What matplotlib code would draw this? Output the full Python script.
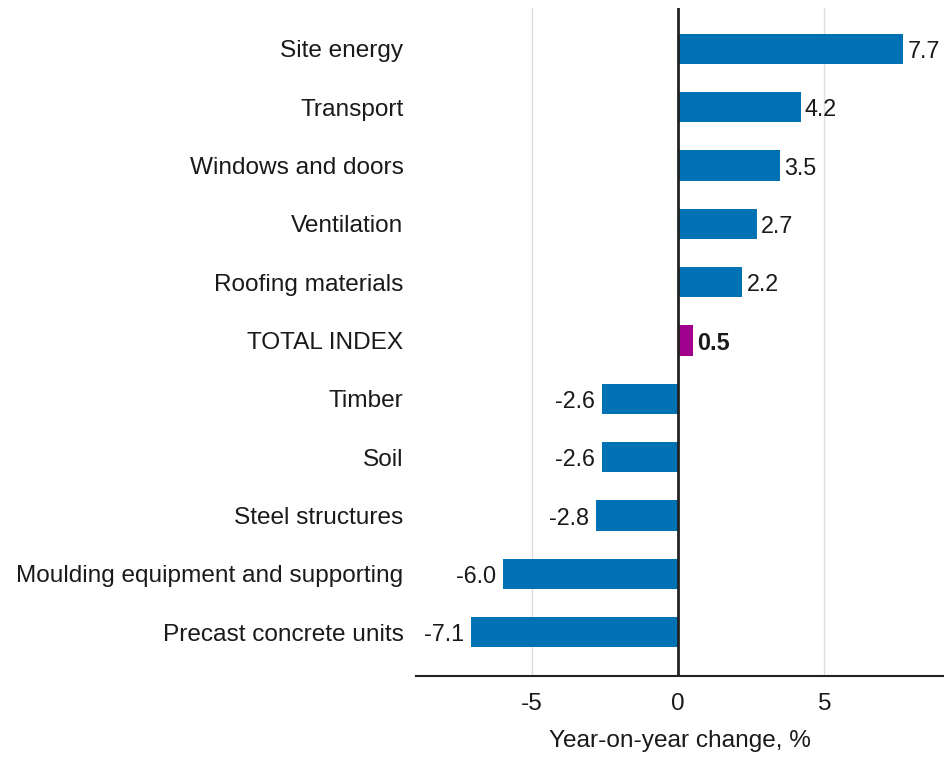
import matplotlib.pyplot as plt

# ==========================
# Data
# ==========================

categories = [
    "Site energy",
    "Transport",
    "Windows and doors",
    "Ventilation",
    "Roofing materials",
    "TOTAL INDEX",
    "Timber",
    "Soil",
    "Steel structures",
    "Moulding equipment and supporting",
    "Precast concrete units",
]

values = [7.7, 4.2, 3.5, 2.7, 2.2, 0.5, -2.6, -2.6, -2.8, -6.0, -7.1]

total_label = "TOTAL INDEX"

xticks = [-5, 0, 5]

BLUE = "#0071b2"
MAGENTA = "#a0008c"
TEXT = "#1a1a1a"
FS = 17.6

plt.rcParams["font.family"] = ["Liberation Sans", "DejaVu Sans"]

# ==========================
# Figure
# ==========================

fig = plt.figure(figsize=(9.44, 7.58), dpi=100)
ax = fig.add_axes([0.4407, 0.1082, 0.5593, 0.8812])

pos = list(range(len(categories)))
colors = [MAGENTA if c == total_label else BLUE for c in categories]

ax.barh(pos, values, height=0.52, color=colors, zorder=3)

ax.set_ylim(len(categories) - 1 + 0.75, -0.7)
ax.set_xlim(-8.97, 9.1)

ax.set_yticks(pos)
ax.set_yticklabels(categories, fontsize=FS)
ax.set_xticks(xticks)
ax.set_xticklabels([str(t) for t in xticks], fontsize=FS)
ax.tick_params(axis="both", length=0, colors=TEXT)
ax.tick_params(axis="y", pad=9)
ax.tick_params(axis="x", pad=12)

for s in ["top", "right", "left"]:
    ax.spines[s].set_visible(False)
ax.spines["bottom"].set_color("#222222")
ax.spines["bottom"].set_linewidth(1.5)

for t in xticks:
    if t != 0:
        ax.axvline(t, color="#dddddd", linewidth=1, zorder=1)
ax.axvline(0, color="#222222", linewidth=2, zorder=4)

# value labels
for p, v, c in zip(pos, values, categories):
    weight = "bold" if c == total_label else "normal"
    if v >= 0:
        ax.annotate(f"{v:.1f}", (v, p), xytext=(3, 0), textcoords="offset points",
                    va="center_baseline", ha="left",
                    fontsize=FS - 0.8, fontweight=weight, color=TEXT)
    else:
        ax.annotate(f"{v:.1f}", (v, p), xytext=(-5, 0), textcoords="offset points",
                    va="center_baseline", ha="right",
                    fontsize=FS - 0.8, fontweight=weight, color=TEXT)

ax.set_xlabel("Year-on-year change, %", fontsize=FS, color=TEXT,
              labelpad=11)

fig.savefig("out.png", dpi=100)
